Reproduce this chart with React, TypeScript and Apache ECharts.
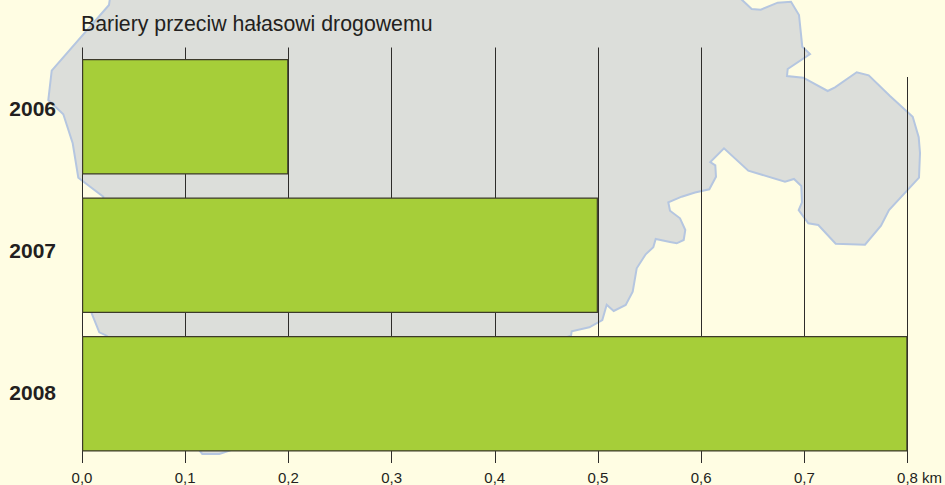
import React, { useEffect, useRef } from "react";
import * as echarts from "echarts";

const title = "Bariery przeciw hałasowi drogowemu";
const years = ["2006", "2007", "2008"];
const lengthsKm = [0.2, 0.5, 0.8];
const unit = "km";
const FONT = '"Liberation Sans", Arial, sans-serif';
const INK = "#231F20";

// Decorative background map outline
const mapOutline: number[][] = [
  [110, -2], [109, 5], [51.7, 70.7], [48.3, 100], [63.3, 114.3], [72.7, 143.3], [78.3, 177.7], [103.3, 196.7],
  [91.7, 313.3], [99.3, 332.3], [106.7, 335.7], [202.3, 454], [219.3, 454], [571, 335.7], [571.7, 331.3],
  [589.3, 327.3], [602.3, 320], [606.7, 304.7], [613.7, 311], [625.7, 305], [632.7, 291.7], [636.7, 268.3],
  [645.7, 254.3], [653.3, 247.3], [655.7, 239], [670, 242], [676.7, 243.3], [683.7, 240], [685.3, 230],
  [680, 218.3], [670, 210.7], [668.3, 202.3], [681.7, 196.7], [695, 192.5], [709.3, 189.3], [716, 176.7],
  [715.3, 165.3], [710.3, 162], [724, 148.3], [748.3, 170.7], [785, 181.7], [794, 179], [801.3, 186],
  [802, 202.3], [798.7, 210], [808.3, 223.3], [818.3, 225], [835.7, 243.7], [865, 244.7], [881, 225.7],
  [889, 210], [919, 177.7], [920, 153], [918.7, 137.3], [912.7, 116.7], [890, 96], [868.7, 75.3], [856.7, 72.3],
  [835, 87.3], [827.7, 91], [803.3, 77.7], [787, 76], [787.7, 69], [810, 54], [802.3, 46.7], [799, 15],
  [791, 1.7], [777.7, 2.7], [760.7, 9.7], [751.7, 9], [740, -2],
];

const yearLabel = { fontFamily: FONT, fontSize: 21, fontWeight: "bold", color: INK };

export default function App() {
  const ref = useRef<HTMLDivElement>(null);
  useEffect(() => {
    const chart = echarts.init(ref.current!, undefined, { renderer: "svg" });
    chart.setOption({
      animation: false,
      backgroundColor: "#FFFDE3",
      title: {
        text: title,
        left: 76,
        top: 8,
        textStyle: { fontFamily: FONT, fontSize: 21.3, fontWeight: "normal", color: INK },
      },
      grid: { left: 82, top: 47.5, width: 825.5, height: 415.5 },
      xAxis: {
        type: "value",
        min: 0,
        max: 0.8,
        interval: 0.1,
        axisLine: { show: false },
        axisTick: { show: false },
        splitLine: { show: true, showMinLine: true, showMaxLine: false, lineStyle: { color: "#2E2C2A", width: 1 } },
        axisLabel: {
          margin: 7,
          fontFamily: FONT,
          fontSize: 15,
          color: INK,
          formatter: (v: number) => v.toFixed(1).replace(".", ","),
          showMaxLabel: true,
          showMinLabel: true,
        },
      },
      yAxis: {
        type: "category",
        inverse: true,
        data: years,
        axisLine: { show: false },
        axisTick: { show: false },
        axisLabel: {
          margin: 26,
          ...yearLabel,
          formatter: (v: string, i: number) => `{y${i}|${v}}`,
          rich: {
            y0: { ...yearLabel, padding: [0, 0, 17, 0] },
            y1: { ...yearLabel, padding: [0, 0, 10, 0] },
            y2: { ...yearLabel, padding: [0, 0, 3, 0] },
          },
        },
      },
      series: [
        {
          type: "bar",
          data: lengthsKm,
          barWidth: 115.5,
          itemStyle: { color: "#A6CE39", borderColor: "#3C3A2A", borderWidth: 1.2 },
        },
      ],
      graphic: [
        {
          type: "polygon",
          z: -10,
          silent: true,
          shape: { points: mapOutline },
          style: { fill: "#DCDEDA", stroke: "#B5C6E0", lineWidth: 2 },
        },
        {
          type: "line",
          z: 0,
          silent: true,
          shape: { x1: 907.5, y1: 77, x2: 907.5, y2: 463 },
          style: { stroke: "#2E2C2A", lineWidth: 1 },
        },
        {
          type: "text",
          x: 922,
          y: 470,
          style: { text: unit, fontFamily: FONT, fontSize: 15, fill: INK },
        },
      ],
    });
    return () => chart.dispose();
  }, []);
  return <div ref={ref} style={{ position: "absolute", left: 0, top: 0, width: 945, height: 485 }} />;
}
